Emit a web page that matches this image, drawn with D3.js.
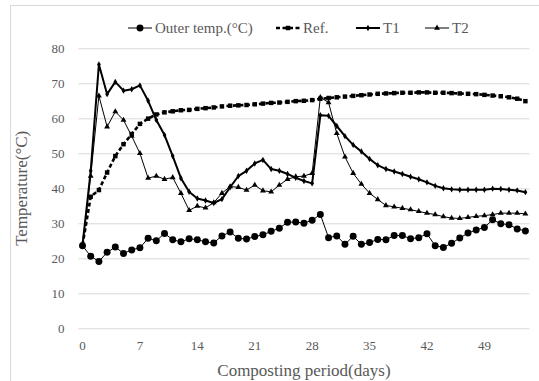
<!DOCTYPE html>
<html>
<head>
<meta charset="utf-8">
<script src="https://cdn.jsdelivr.net/npm/d3@7"></script>
<style>
  body { margin: 0; background: #fff; }
  svg { display: block; font-family: "Liberation Serif", "Times New Roman", serif; }
  svg .tick text { font-family: "Liberation Serif", "Times New Roman", serif; }
</style>
</head>
<body>
<svg></svg>
<script>
// composting temperatures, one value per day (0..54)
const days = d3.range(0, 55);

const outerTemp = [23.6, 20.6, 19.1, 21.7, 23.2, 21.4, 22.4, 23.0, 25.7, 25.0,
  27.1, 25.3, 24.7, 25.6, 25.3, 24.7, 24.4, 26.4, 27.5, 25.7,
  25.5, 26.2, 26.7, 27.7, 28.6, 30.3, 30.4, 30.0, 30.9, 32.5,
  25.9, 26.4, 24.0, 26.3, 24.0, 24.5, 25.4, 25.3, 26.5, 26.5,
  25.6, 25.9, 27.0, 23.6, 23.1, 24.3, 25.8, 27.2, 28.1, 28.8,
  31.0, 29.9, 29.6, 28.4, 27.8];

const refTemp = [23.8, 37.6, 39.5, 44.5, 49.2, 52.6, 55.5, 58.4, 59.9, 61.1,
  61.7, 62.0, 62.3, 62.4, 62.7, 62.9, 63.1, 63.4, 63.6, 63.7,
  63.8, 64.0, 64.2, 64.4, 64.5, 64.7, 64.9, 65.0, 65.2, 65.6,
  65.8, 66.0, 66.2, 66.4, 66.6, 66.8, 67.0, 67.1, 67.2, 67.3,
  67.3, 67.4, 67.4, 67.3, 67.3, 67.2, 67.1, 67.0, 66.9, 66.7,
  66.5, 66.3, 66.0, 65.6, 64.9];

const t1Temp = [23.8, 45.0, 75.4, 66.9, 70.4, 67.9, 68.3, 69.4, 65.0, 59.5,
  55.2, 49.2, 42.9, 39.0, 37.1, 36.5, 35.8, 36.9, 40.3, 43.5,
  45.0, 47.1, 48.1, 45.5, 45.0, 44.1, 43.0, 42.1, 41.4, 60.9,
  60.7, 57.8, 54.9, 52.4, 50.5, 48.4, 46.6, 45.5, 44.8, 44.1,
  43.3, 42.6, 41.7, 40.7, 40.0, 39.7, 39.6, 39.6, 39.6, 39.6,
  39.9, 39.8, 39.6, 39.4, 38.9];

const t2Temp = [23.8, 43.5, 66.4, 57.6, 61.9, 59.5, 54.9, 50.0, 42.9, 43.5,
  42.6, 43.1, 38.6, 33.7, 34.9, 34.4, 35.9, 38.6, 40.5, 40.3,
  39.5, 40.9, 39.3, 39.0, 40.9, 42.6, 43.3, 43.5, 44.3, 66.0,
  64.5, 55.7, 49.0, 44.3, 41.2, 38.6, 36.8, 35.1, 34.7, 34.3,
  33.9, 33.4, 32.9, 32.5, 31.9, 31.5, 31.4, 31.7, 32.0, 32.2,
  32.5, 32.9, 32.9, 32.9, 32.7];

const yTicks = [0, 10, 20, 30, 40, 50, 60, 70, 80];
const xTickDays = [0, 7, 14, 21, 28, 35, 42, 49];

const series = [
  { name: "Outer temp.(°C)", values: outerTemp, width: 1, dash: null, marker: "circle", size: 38 },
  { name: "Ref.", values: refTemp, width: 2.6, dash: "4,2.5", marker: "square", size: 20 },
  { name: "T1", values: t1Temp, width: 2, dash: null, marker: "diamond", size: 12 },
  { name: "T2", values: t2Temp, width: 1, dash: null, marker: "triangle", size: 15 }
];

const W = 539, H = 381;
const svg = d3.select("svg").attr("width", W).attr("height", H);

svg.append("rect")
  .attr("x", 10.5).attr("y", 5.5)
  .attr("width", W + 20).attr("height", H + 20)
  .attr("fill", "none").attr("stroke", "#d9d9d9");

const plot = { left: 78.4, right: 529.5, top: 48.3, bottom: 328.3 };

const x = d3.scaleBand()
  .domain(days)
  .range([plot.left, plot.right]);
const xc = d => x(d) + x.bandwidth() / 2;

const y = d3.scaleLinear()
  .domain([0, 80])
  .range([plot.bottom, plot.top]);

// gridlines + y labels
const yAxis = d3.axisLeft(y)
  .tickValues(yTicks)
  .tickSize(-(plot.right - plot.left))
  .tickPadding(14);
const yG = svg.append("g")
  .attr("transform", `translate(${plot.left},0)`)
  .call(yAxis)
  .attr("font-family", null)
  .attr("font-size", 13);
yG.select(".domain").remove();
yG.selectAll(".tick line").attr("stroke", "#d9d9d9").attr("stroke-width", 1);
yG.selectAll(".tick text").attr("fill", "#595959");

// x labels
const xAxis = d3.axisBottom(x)
  .tickValues(xTickDays)
  .tickSize(0)
  .tickPadding(12);
const xG = svg.append("g")
  .attr("transform", `translate(0,${plot.bottom})`)
  .call(xAxis)
  .attr("font-family", null)
  .attr("font-size", 13);
xG.select(".domain").remove();
xG.selectAll(".tick text").attr("fill", "#595959");

// axis titles
svg.append("text")
  .attr("x", (plot.left + plot.right) / 2)
  .attr("y", 376)
  .attr("text-anchor", "middle")
  .attr("font-size", 17)
  .attr("fill", "#595959")
  .text("Composting period(days)");

svg.append("text")
  .attr("transform", `translate(27,${(plot.top + plot.bottom) / 2}) rotate(-90)`)
  .attr("text-anchor", "middle")
  .attr("font-size", 17)
  .attr("fill", "#595959")
  .text("Temperature(°C)");

const symbolType = {
  circle: d3.symbolCircle,
  square: d3.symbolSquare,
  diamond: d3.symbolDiamond,
  triangle: d3.symbolTriangle
};

const line = d3.line()
  .x((d, i) => xc(days[i]))
  .y(d => y(d));

series.forEach(s => {
  const g = svg.append("g");
  g.append("path")
    .attr("d", line(s.values))
    .attr("fill", "none")
    .attr("stroke", "#000")
    .attr("stroke-width", s.width)
    .attr("stroke-dasharray", s.dash)
    .attr("stroke-linejoin", "round");
  const sym = d3.symbol().type(symbolType[s.marker]).size(s.size);
  g.selectAll("path.m").data(s.values).enter()
    .append("path")
    .attr("class", "m")
    .attr("transform", (d, i) => `translate(${xc(days[i])},${y(d)})`)
    .attr("d", sym())
    .attr("fill", "#000");
});

// legend
const legendX = [128, 276, 356, 425];
const legend = svg.append("g");
series.forEach((s, i) => {
  const lg = legend.append("g").attr("transform", `translate(${legendX[i]},28)`);
  lg.append("line")
    .attr("x1", 0).attr("x2", 24)
    .attr("stroke", "#000")
    .attr("stroke-width", s.width)
    .attr("stroke-dasharray", s.dash);
  lg.append("path")
    .attr("transform", "translate(12,0)")
    .attr("d", d3.symbol().type(symbolType[s.marker]).size(s.size)())
    .attr("fill", "#000");
  lg.append("text")
    .attr("x", 27)
    .attr("dy", "0.35em")
    .attr("font-size", 15)
    .attr("fill", "#595959")
    .text(s.name);
});
</script>
</body>
</html>
